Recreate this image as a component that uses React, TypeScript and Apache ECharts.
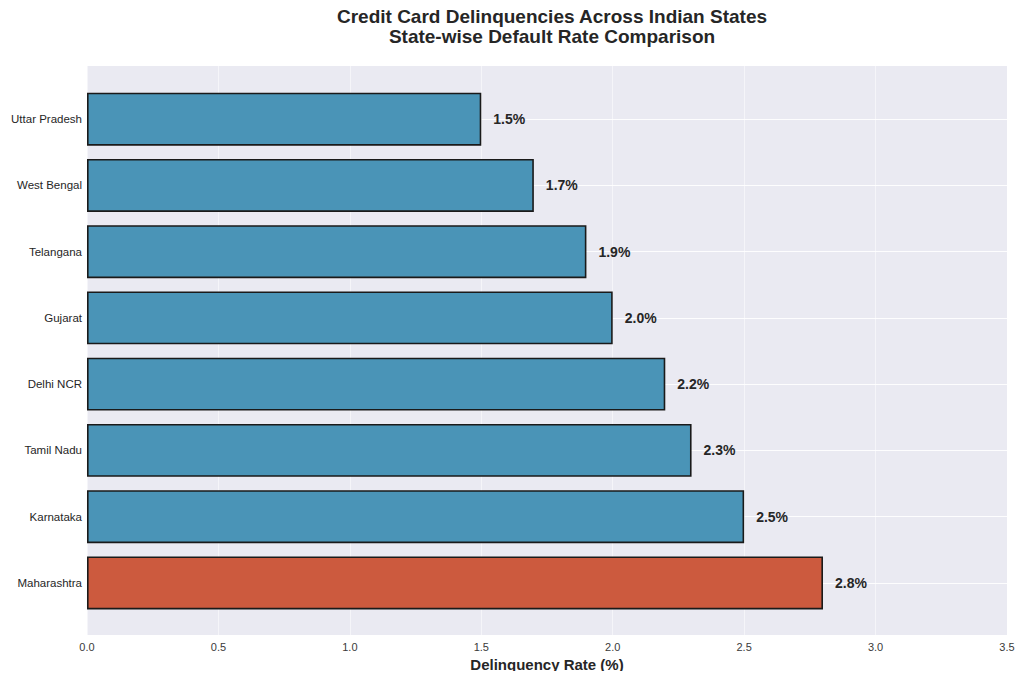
import { useEffect, useRef } from 'react'
import * as echarts from 'echarts'

// bottom to top, same as the picture
const states = ['Maharashtra', 'Karnataka', 'Tamil Nadu', 'Delhi NCR', 'Gujarat', 'Telangana', 'West Bengal', 'Uttar Pradesh']
const rates = [2.8, 2.5, 2.3, 2.2, 2.0, 1.9, 1.7, 1.5]
const highlight = 'Maharashtra'

const FONT = '"Liberation Sans", Arial, sans-serif'

export default function App(): JSX.Element {
  const chartRef = useRef<HTMLDivElement>(null)

  useEffect(() => {
    if (!chartRef.current) return
    const chart = echarts.init(chartRef.current, undefined, { renderer: 'svg' })

    const option: echarts.EChartsOption = {
      animation: false,
      backgroundColor: '#ffffff',
      textStyle: { fontFamily: FONT },
      title: {
        text: 'Credit Card Delinquencies Across Indian States\nState-wise Default Rate Comparison',
        left: 547,
        top: 1,
        textAlign: 'center',
        textStyle: { fontSize: 19, fontWeight: 'bold', color: '#262626', lineHeight: 20, fontFamily: FONT }
      },
      // grid 0: the grey plot area with the x axis; grid 1: the bars, inset like matplotlib's margins
      grid: [
        {
          left: 87, right: 17, top: 66, bottom: 44,
          backgroundColor: '#EAEAF2', show: true, borderWidth: 0,
          outerBoundsMode: 'none', containLabel: false
        },
        {
          left: 87, right: 17, top: 86, bottom: 63,
          show: false,
          outerBoundsMode: 'none', containLabel: false
        }
      ] as any,
      xAxis: [
        {
          type: 'value',
          gridIndex: 0,
          min: 0,
          max: 3.5,
          interval: 0.5,
          name: 'Delinquency Rate (%)',
          nameLocation: 'middle',
          nameGap: 19,
          nameTextStyle: { fontSize: 15, fontWeight: 'bold', color: '#262626', fontFamily: FONT },
          axisLine: { show: false },
          axisTick: { show: false },
          axisLabel: { color: '#3a3a3a', fontSize: 11, margin: 6, formatter: (v: number) => v.toFixed(1) },
          splitLine: { show: true, lineStyle: { color: '#ffffff', width: 1, type: 'solid', opacity: 0.5 } }
        },
        {
          type: 'value',
          gridIndex: 1,
          min: 0,
          max: 3.5,
          show: false,
          splitLine: { show: false }
        }
      ],
      yAxis: [
        {
          type: 'value',
          gridIndex: 0,
          min: 0,
          max: 1,
          show: false,
          splitLine: { show: false }
        },
        {
          type: 'category',
          gridIndex: 1,
          data: states,
          axisLine: { show: false },
          axisTick: { show: false },
          axisLabel: { color: '#262626', fontSize: 11.5, margin: 5 },
          splitLine: { show: false }
        }
      ],
      series: [
        {
          // white lines through category centres, behind the bars
          type: 'line',
          xAxisIndex: 1,
          yAxisIndex: 1,
          data: states.map(() => 0),
          silent: true,
          symbol: 'none',
          lineStyle: { opacity: 0 },
          z: 0,
          markLine: {
            silent: true,
            symbol: 'none',
            label: { show: false },
            lineStyle: { color: '#ffffff', width: 1, type: 'solid', opacity: 0.9 },
            data: states.map((s) => ({ yAxis: s }))
          }
        },
        {
          type: 'bar',
          xAxisIndex: 1,
          yAxisIndex: 1,
          data: rates.map((v, i) => ({
            value: v,
            itemStyle: { color: states[i] === highlight ? '#CC5A3E' : '#4A94B7' }
          })),
          barCategoryGap: '20%',
          itemStyle: { borderColor: '#1a1a1a', borderWidth: 1.6 },
          label: {
            show: true,
            position: 'right',
            distance: 12,
            fontSize: 14,
            fontWeight: 'bold',
            color: '#262626',
            textBorderWidth: 0,
            textBorderColor: 'transparent',
            formatter: (p: any) => p.value.toFixed(1) + '%'
          },
          z: 5
        }
      ]
    }

    chart.setOption(option)
    return () => chart.dispose()
  }, [])

  // cancel the body's 8px margin so the chart covers the whole window
  return <div ref={chartRef} style={{ width: 1024, height: 679, margin: -8 }} />
}
